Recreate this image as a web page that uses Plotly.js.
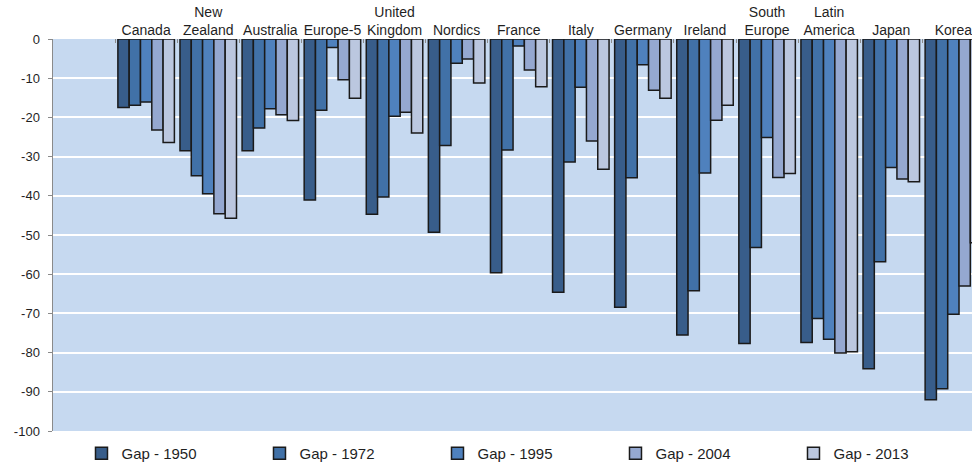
<!DOCTYPE html>
<html>
<head>
<meta charset="utf-8">
<script src="https://cdn.plot.ly/plotly-3.0.1.min.js"></script>
<style>html,body{margin:0;padding:0;background:#fff;}#chart{width:972px;height:465px;}</style>
</head>
<body>
<div id="chart"></div>
<script>
const categories = ["Canada","New<br>Zealand","Australia","Europe-5","United<br>Kingdom","Nordics","France","Italy","Germany","Ireland","South<br>Europe","Latin<br>America","Japan","Korea"];
const seriesNames = ["Gap - 1950","Gap - 1972","Gap - 1995","Gap - 2004","Gap - 2013"];
const gap1950 = [-17.5,-28.5,-28.5,-41.1,-44.7,-49.3,-59.6,-64.6,-68.4,-75.5,-77.7,-77.4,-84.1,-92.0];
const gap1972 = [-16.9,-34.9,-22.7,-18.2,-40.3,-27.2,-28.3,-31.4,-35.4,-64.2,-53.2,-71.3,-56.8,-89.2];
const gap1995 = [-16.1,-39.5,-17.8,-2.2,-19.7,-6.2,-1.8,-12.3,-6.6,-34.2,-25.1,-76.6,-32.8,-70.2];
const gap2004 = [-23.2,-44.6,-19.3,-10.4,-18.7,-5.1,-7.9,-26.0,-13.1,-20.7,-35.3,-80.1,-35.7,-63.0];
const gap2013 = [-26.4,-45.7,-20.8,-15.1,-24.0,-11.2,-12.2,-33.2,-15.1,-16.9,-34.3,-79.8,-36.4,-52.0];
const yTicks = [0,-10,-20,-30,-40,-50,-60,-70,-80,-90,-100];

const allSeries = [gap1950, gap1972, gap1995, gap2004, gap2013];
const colors = ["#385D8A","#4171A7","#4F81BD","#95A8D0","#BBC7DF"];

const traces = allSeries.map((vals, i) => ({
  type: "bar",
  name: seriesNames[i],
  x: categories,
  y: vals,
  marker: {color: colors[i], line: {color: "#1a1a1a", width: 1.5}},
  hoverinfo: "x+y+name"
}));

const layout = {
  width: 972, height: 465,
  margin: {l: 53, r: 0, t: 39, b: 34, pad: 0, autoexpand: false},
  paper_bgcolor: "#ffffff",
  plot_bgcolor: "#C6D9F0",
  barmode: "group",
  bargap: 0.09,
  bargroupgap: 0,
  font: {family: "Liberation Sans, Arial, sans-serif", color: "#1f1f1f"},
  xaxis: {
    type: "category",
    side: "top",
    range: [-1.5, 13.3],
    showgrid: false,
    zeroline: false,
    showline: false,
    ticks: "inside",
    tickson: "boundaries",
    ticklen: 4,
    tickcolor: "#8a8a8a",
    tickwidth: 1,
    tickfont: {size: 14, color: "#1f1f1f"},
    tickangle: 0,
    automargin: false,
    fixedrange: true
  },
  yaxis: {
    range: [-100, 0],
    tickvals: yTicks,
    ticktext: yTicks.map(String),
    showgrid: true,
    gridcolor: "#ffffff",
    gridwidth: 2,
    zeroline: false,
    showline: true,
    linecolor: "#8a8a8a",
    linewidth: 1.5,
    ticks: "outside",
    ticklen: 4,
    tickcolor: "#8a8a8a",
    ticklabelstandoff: 5,
    tickfont: {size: 13, color: "#1f1f1f"},
    automargin: false,
    fixedrange: true
  },
  showlegend: true,
  legend: {
    orientation: "h",
    x: 0.031, xanchor: "left",
    y: -0.015, yanchor: "top",
    entrywidth: 133, entrywidthmode: "pixels",
    font: {size: 15, color: "#1f1f1f"},
    traceorder: "normal",
    bgcolor: "rgba(0,0,0,0)"
  }
};

Plotly.newPlot("chart", traces, layout, {displayModeBar: false, staticPlot: true});
</script>
</body>
</html>
